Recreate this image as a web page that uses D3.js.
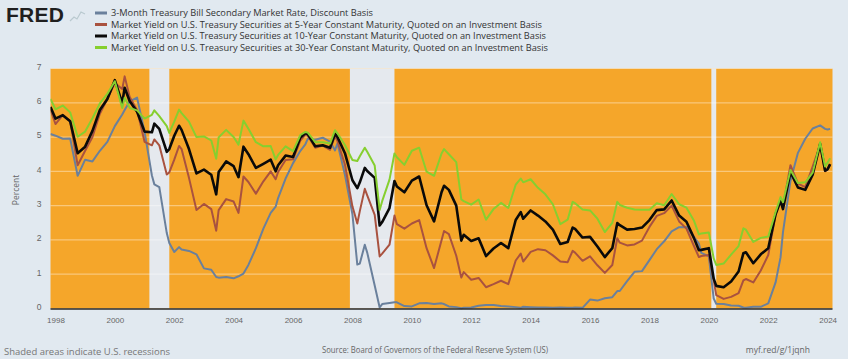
<!DOCTYPE html>
<html><head><meta charset="utf-8">
<script src="https://cdn.jsdelivr.net/npm/d3@7"></script>
<style>
html,body{margin:0;padding:0;background:#e1e9f0;}
svg{display:block;font-family:"Open Sans",Arial,sans-serif;}
</style></head>
<body><svg id="c" width="848" height="359"></svg>
<script>
const dates = ["1997-11","1998-01","1998-04","1998-07","1998-10","1999-01","1999-04","1999-07","1999-10","2000-01","2000-04","2000-05","2000-07","2000-10","2001-01","2001-04","2001-05","2001-07","2001-10","2001-11","2002-01","2002-03","2002-04","2002-07","2002-10","2003-01","2003-04","2003-06","2003-07","2003-10","2004-01","2004-03","2004-05","2004-07","2004-10","2005-01","2005-04","2005-06","2005-07","2005-10","2006-01","2006-04","2006-06","2006-07","2006-10","2007-01","2007-04","2007-06","2007-07","2007-10","2008-01","2008-03","2008-04","2008-06","2008-07","2008-10","2008-12","2009-01","2009-04","2009-06","2009-07","2009-10","2010-01","2010-04","2010-07","2010-10","2011-01","2011-02","2011-04","2011-07","2011-09","2011-10","2012-01","2012-04","2012-07","2012-10","2013-01","2013-04","2013-07","2013-09","2013-10","2014-01","2014-04","2014-07","2014-10","2015-01","2015-04","2015-06","2015-07","2015-10","2016-01","2016-04","2016-07","2016-10","2016-12","2017-01","2017-04","2017-07","2017-10","2018-01","2018-04","2018-07","2018-10","2019-01","2019-04","2019-07","2019-09","2019-10","2020-01","2020-03","2020-04","2020-07","2020-10","2021-01","2021-03","2021-04","2021-07","2021-10","2022-01","2022-04","2022-06","2022-07","2022-10","2023-01","2023-04","2023-07","2023-10","2023-12","2024-01","2024-02"];
const tb3m = [5.09,5.04,4.95,4.96,3.87,4.34,4.29,4.60,4.86,5.32,5.66,5.79,6.04,6.15,5.15,3.88,3.62,3.54,2.20,1.91,1.65,1.79,1.72,1.68,1.58,1.17,1.13,0.92,0.90,0.92,0.88,0.94,1.02,1.27,1.76,2.33,2.79,2.97,3.22,3.79,4.24,4.60,4.79,4.95,4.92,4.98,4.87,4.61,4.82,3.90,2.75,1.28,1.31,1.86,1.63,0.67,0.03,0.13,0.16,0.18,0.18,0.07,0.06,0.15,0.16,0.13,0.15,0.13,0.06,0.04,0.01,0.02,0.03,0.08,0.10,0.10,0.07,0.06,0.04,0.02,0.05,0.04,0.03,0.03,0.02,0.03,0.02,0.02,0.03,0.02,0.26,0.23,0.30,0.33,0.51,0.51,0.80,1.07,1.09,1.41,1.73,1.96,2.25,2.37,2.38,2.09,1.89,1.62,1.52,0.29,0.14,0.13,0.09,0.08,0.03,0.02,0.05,0.05,0.15,0.76,1.49,2.23,3.72,4.54,4.95,5.25,5.34,5.24,5.22,5.24];
const gs5 = [5.80,5.38,5.64,5.46,4.18,4.60,5.00,5.68,6.11,6.58,6.40,6.77,6.18,5.78,4.86,4.76,4.93,4.76,3.91,3.97,4.34,4.74,4.65,3.81,2.87,3.05,2.90,2.27,2.87,3.19,3.12,2.79,3.85,3.69,3.35,3.71,4.00,3.77,3.98,4.33,4.35,4.90,5.07,5.04,4.69,4.75,4.63,5.03,4.88,4.20,2.98,2.48,2.84,3.49,3.30,2.73,1.52,1.60,1.86,2.71,2.46,2.33,2.48,2.58,1.76,1.18,1.99,2.26,2.17,1.54,0.90,1.06,0.84,0.89,0.62,0.71,0.81,0.71,1.40,1.60,1.37,1.65,1.73,1.70,1.55,1.37,1.35,1.68,1.63,1.39,1.52,1.26,1.04,1.27,2.05,1.92,1.84,1.87,1.98,2.38,2.70,2.78,3.00,2.54,2.33,1.83,1.50,1.53,1.56,0.82,0.39,0.28,0.34,0.45,0.82,0.86,0.76,1.11,1.56,2.75,3.19,2.96,4.18,3.64,3.54,4.14,4.77,4.00,4.06,4.19];
const gs10 = [5.88,5.54,5.64,5.46,4.53,4.72,5.18,5.79,6.11,6.66,5.99,6.44,6.05,5.74,5.16,5.14,5.39,5.24,4.57,4.65,5.04,5.33,5.21,4.65,3.94,4.05,3.90,3.33,3.98,4.29,4.15,3.83,4.72,4.50,4.10,4.22,4.34,4.00,4.18,4.46,4.42,4.99,5.11,5.09,4.73,4.76,4.69,5.10,5.00,4.53,3.74,3.51,3.68,4.10,4.01,3.81,2.42,2.52,2.93,3.72,3.56,3.39,3.73,3.85,3.01,2.54,3.39,3.58,3.46,3.00,1.98,2.15,1.97,2.05,1.53,1.75,1.91,1.76,2.58,2.81,2.62,2.86,2.71,2.54,2.30,1.88,1.94,2.36,2.32,2.07,2.09,1.81,1.50,1.76,2.49,2.43,2.30,2.32,2.36,2.58,2.87,2.89,3.15,2.71,2.53,2.06,1.70,1.71,1.76,0.87,0.66,0.62,0.79,1.08,1.61,1.64,1.32,1.58,1.76,2.75,3.14,2.90,3.98,3.53,3.46,3.90,4.80,4.02,4.06,4.21];
const gs30 = [6.11,5.81,5.92,5.72,5.01,5.16,5.55,5.98,6.26,6.63,5.85,6.15,5.85,5.78,5.54,5.65,5.78,5.61,5.32,5.12,5.45,5.80,5.70,5.45,5.00,5.02,4.90,4.37,4.99,5.21,5.00,4.78,5.48,5.24,4.85,4.73,4.74,4.35,4.48,4.73,4.59,5.06,5.15,5.13,4.85,4.85,4.81,5.20,5.11,4.77,4.33,4.30,4.44,4.69,4.57,4.17,2.87,3.13,3.76,4.52,4.41,4.19,4.60,4.69,3.99,3.87,4.52,4.65,4.50,4.27,3.18,3.13,3.03,3.18,2.59,2.90,3.08,2.93,3.61,3.79,3.68,3.77,3.52,3.33,3.04,2.46,2.59,3.11,3.07,2.89,2.86,2.62,2.23,2.50,3.11,3.02,2.94,2.89,2.88,2.88,3.07,3.01,3.34,3.04,2.94,2.57,2.16,2.19,2.22,1.46,1.27,1.31,1.57,1.82,2.34,2.30,1.94,2.06,2.10,2.81,3.25,3.10,4.04,3.66,3.68,3.96,4.85,4.14,4.26,4.38];
const recessions = [["2001-03","2001-11"],["2007-12","2009-06"],["2020-02","2020-04"]];
const seriesNames = [
 "3-Month Treasury Bill Secondary Market Rate, Discount Basis",
 "Market Yield on U.S. Treasury Securities at 5-Year Constant Maturity, Quoted on an Investment Basis",
 "Market Yield on U.S. Treasury Securities at 10-Year Constant Maturity, Quoted on an Investment Basis",
 "Market Yield on U.S. Treasury Securities at 30-Year Constant Maturity, Quoted on an Investment Basis"];
const yTicks = [0,1,2,3,4,5,6,7];

const parse = d3.timeParse("%Y-%m");
const svg = d3.select("#c");
const L = 50.5, R = 832.5, T = 68.5, B = 308.5;
const x = d3.scaleTime().domain([parse("1997-11"), parse("2024-03")]).range([L, R]);
const y = d3.scaleLinear().domain([0, 7]).range([B, T]);

svg.append("defs").append("clipPath").attr("id","clip")
  .append("rect").attr("x",L).attr("y",T-2).attr("width",R-L).attr("height",B-T+4);

// plot background (expansions in orange)
svg.append("rect").attr("x",L).attr("y",T).attr("width",R-L).attr("height",B-T).attr("fill","#f5a62a");
svg.selectAll("rect.rec").data(recessions).enter().append("rect").attr("class","rec")
  .attr("x",d=>x(parse(d[0]))).attr("width",d=>x(parse(d[1]))-x(parse(d[0])))
  .attr("y",T).attr("height",B-T).attr("fill","#e5e9ee");

// gridlines
svg.selectAll("line.grid").data(yTicks.slice(1)).enter().append("line").attr("class","grid")
  .attr("x1",L).attr("x2",R).attr("y1",d=>y(d)).attr("y2",d=>y(d))
  .attr("stroke","#ffffff").attr("stroke-opacity",0.38).attr("stroke-width",1.2);

// y axis
const ya = svg.append("g").attr("transform",`translate(${L},0)`)
  .call(d3.axisLeft(y).tickValues(yTicks).tickSize(0).tickPadding(9).tickFormat(d3.format("d")));
ya.select(".domain").remove();
ya.selectAll("text").attr("fill","#666").attr("font-size","8.5px").attr("dy","0.1em");

// x axis
const xa = svg.append("g").attr("transform",`translate(0,${B})`)
  .call(d3.axisBottom(x).ticks(d3.timeYear.every(2)).tickSize(0).tickPadding(9).tickFormat(d3.timeFormat("%Y")));
xa.select(".domain").remove();
xa.selectAll("text").attr("fill","#666").attr("font-size","8px");

// lines
const rows = dates.map((d,i)=>({t:parse(d), v:[tb3m[i],gs5[i],gs10[i],gs30[i]]}));
const colors = ["#6a809c","#a9523f","#0a0a0a","#86cf2f"];
const widths = [2,2,2.6,2];
const g = svg.append("g").attr("clip-path","url(#clip)");
[0,1,2,3].forEach(k=>{
  const line = d3.line().x(d=>x(d.t)).y(d=>y(d.v[k]));
  g.append("path").datum(rows).attr("d",line).attr("fill","none")
   .attr("stroke",colors[k]).attr("stroke-width",widths[k]).attr("stroke-linejoin","round");
});

// bottom axis line
svg.append("line").attr("x1",L).attr("x2",R).attr("y1",B+0.5).attr("y2",B+0.5)
  .attr("stroke","#2a2a2a").attr("stroke-width",1.6);

// y title
svg.append("text").attr("transform","translate(19,190) rotate(-90)").attr("text-anchor","middle")
  .attr("font-size","8.5px").attr("fill","#666").text("Percent");

// FRED logo
svg.append("text").attr("x",6).attr("y",22).attr("font-family","Liberation Sans, Arial, sans-serif")
  .attr("font-weight","bold").attr("font-size","21px").attr("fill","#1f1f1f").attr("textLength",58).text("FRED");
svg.append("path").attr("d","M70,21 L74,17 L77,19 L81,12 L85,14").attr("fill","none")
  .attr("stroke","#b9c9cf").attr("stroke-width",1.2);

// legend
const legY = [13,24.5,36,47.5];
const legEnd = [373,542,546,548];
seriesNames.forEach((n,i)=>{
  svg.append("line").attr("x1",95).attr("x2",107).attr("y1",legY[i]).attr("y2",legY[i])
    .attr("stroke",colors[i]).attr("stroke-width",3);
  svg.append("text").attr("x",111).attr("y",legY[i]+3).attr("font-size","9px").attr("fill","#333")
    .attr("textLength",legEnd[i]-111).attr("lengthAdjust","spacingAndGlyphs").text(n);
});

// footer
svg.append("text").attr("x",4).attr("y",355).attr("font-size","8.5px").attr("fill","#777")
  .attr("textLength",166).attr("lengthAdjust","spacingAndGlyphs").text("Shaded areas indicate U.S. recessions");
svg.append("text").attr("x",322).attr("y",353).attr("font-size","8.5px").attr("fill","#666")
  .attr("textLength",226).attr("lengthAdjust","spacingAndGlyphs").text("Source: Board of Governors of the Federal Reserve System (US)");
svg.append("text").attr("x",810).attr("y",353).attr("text-anchor","end").attr("font-size","8.5px").attr("fill","#666")
  .text("myf.red/g/1jqnh");
</script>
</body></html>
